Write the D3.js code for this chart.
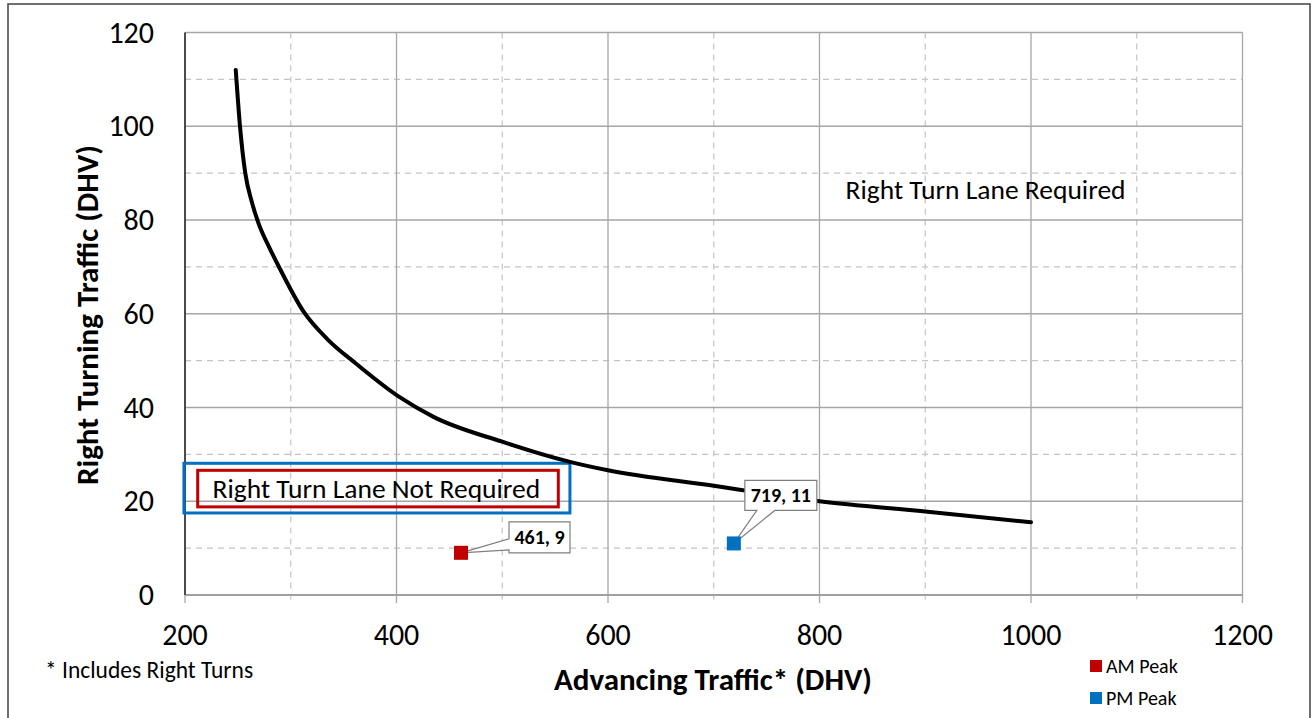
<!DOCTYPE html>
<html>
<head>
<meta charset="utf-8">
<script src="https://cdn.jsdelivr.net/npm/d3@7"></script>
<style>
  html, body { margin: 0; padding: 0; background: #fff; }
  svg { display: block; font-family: Carlito, Lato, "Open Sans", sans-serif; }
  .grid-major { stroke: #a6a6a6; stroke-width: 1.3; }
  .grid-minor { stroke: #c4c4c4; stroke-width: 1.2; stroke-dasharray: 6 5; }
  .tick-label { font-size: 30px; fill: #000; }
  .axis-title { font-size: 31px; font-weight: bold; fill: #000; }
  .callout { fill: #fff; stroke: #7f7f7f; stroke-width: 1.2; }
  .callout-text { font-size: 20px; font-weight: bold; fill: #000; }
</style>
</head>
<body>
<svg id="chart" width="1312" height="718"></svg>
<script>
// boundary curve (advancing vs right turning traffic)
const curveX = [248, 252, 257, 263, 270, 280, 290, 312, 335, 361, 403, 435, 500, 564, 600, 700, 800, 900, 1000];
const curveY = [112, 100, 90, 84, 79, 74, 69.5, 60.5, 54.5, 49.5, 42.2, 38, 32.7, 28.4, 26.6, 23.3, 20.0, 17.8, 15.5];

// observed peaks
const peakNames = ['AM Peak', 'PM Peak'];
const peakX = [461, 719];
const peakY = [9, 11];
const peakColors = ['#c00000', '#0070c0'];

const xTicks = [200, 400, 600, 800, 1000, 1200];
const yTicks = [0, 20, 40, 60, 80, 100, 120];
const xMinor = [300, 500, 700, 900, 1100];
const yMinor = [10, 30, 50, 70, 90, 110];

const svg = d3.select('#chart');

const plot = { left: 185, right: 1242.5, top: 32.5, bottom: 595 };
const x = d3.scaleLinear().domain([200, 1200]).range([plot.left, plot.right]);
const y = d3.scaleLinear().domain([0, 120]).range([plot.bottom, plot.top]);

// outer frame
svg.append('rect')
  .attr('x', 8).attr('y', 4).attr('width', 1302).attr('height', 720)
  .attr('fill', 'none').attr('stroke', '#404040').attr('stroke-width', 1.5);

const grid = svg.append('g');

// minor dashed
grid.selectAll('line.vmin').data(xMinor).join('line')
  .attr('class', 'grid-minor')
  .attr('x1', (d) => x(d)).attr('x2', (d) => x(d))
  .attr('y1', plot.top).attr('y2', plot.bottom + 8);
grid.selectAll('line.hmin').data(yMinor).join('line')
  .attr('class', 'grid-minor')
  .attr('x1', plot.left).attr('x2', plot.right)
  .attr('y1', (d) => y(d)).attr('y2', (d) => y(d));

// major solid
grid.selectAll('line.vmaj').data(xTicks).join('line')
  .attr('class', 'grid-major')
  .attr('x1', (d) => x(d)).attr('x2', (d) => x(d))
  .attr('y1', plot.top).attr('y2', plot.bottom + 8);
grid.selectAll('line.hmaj').data(yTicks).join('line')
  .attr('class', 'grid-major')
  .attr('x1', plot.left).attr('x2', plot.right)
  .attr('y1', (d) => y(d)).attr('y2', (d) => y(d));

// bottom + left axis lines
svg.append('line')
  .attr('x1', plot.left).attr('x2', plot.right)
  .attr('y1', plot.bottom).attr('y2', plot.bottom)
  .attr('stroke', '#a0a0a0').attr('stroke-width', 2);
svg.append('line')
  .attr('x1', plot.left).attr('x2', plot.left)
  .attr('y1', plot.top).attr('y2', plot.bottom)
  .attr('stroke', '#222').attr('stroke-width', 1.5);

// tick labels
svg.selectAll('text.ylab').data(yTicks).join('text')
  .attr('class', 'tick-label')
  .attr('x', 154).attr('y', (d) => y(d) + 10)
  .attr('text-anchor', 'end')
  .text((d) => d);
svg.selectAll('text.xlab').data(xTicks).join('text')
  .attr('class', 'tick-label')
  .attr('x', (d) => x(d)).attr('y', 645)
  .attr('text-anchor', 'middle')
  .text((d) => d);

// axis titles
svg.append('text').attr('class', 'axis-title')
  .attr('x', 713).attr('y', 690).attr('text-anchor', 'middle')
  .text('Advancing Traffic* (DHV)');
svg.append('text').attr('class', 'axis-title')
  .attr('transform', 'translate(98,315) rotate(-90)').attr('text-anchor', 'middle')
  .text('Right Turning Traffic (DHV)');

svg.append('text')
  .attr('x', 45).attr('y', 678).attr('font-size', 23.5)
  .text('* Includes Right Turns');

// region labels
svg.append('text')
  .attr('x', x(957)).attr('y', y(84.4)).attr('font-size', 27.5).attr('text-anchor', 'middle')
  .text('Right Turn Lane Required');

svg.append('rect')
  .attr('x', x(199)).attr('y', y(28.1))
  .attr('width', x(564) - x(199)).attr('height', y(17.5) - y(28.1))
  .attr('fill', 'none').attr('stroke', '#0070c0').attr('stroke-width', 3);
svg.append('rect')
  .attr('x', x(212)).attr('y', y(26.6))
  .attr('width', x(553) - x(212)).attr('height', y(18.8) - y(26.6))
  .attr('fill', 'none').attr('stroke', '#c00000').attr('stroke-width', 3);
svg.append('text')
  .attr('x', x(381)).attr('y', y(22.7) + 9).attr('font-size', 27.5).attr('text-anchor', 'middle')
  .text('Right Turn Lane Not Required');

// curve
const curveData = curveX.map((v, i) => [v, curveY[i]]);
svg.append('path')
  .datum(curveData)
  .attr('fill', 'none').attr('stroke', '#000').attr('stroke-width', 4)
  .attr('stroke-linecap', 'round').attr('stroke-linejoin', 'round')
  .attr('d', d3.line().x((d) => x(d[0])).y((d) => y(d[1])).curve(d3.curveMonotoneX));

// callouts: box offset from the point, wedge on a side
function callout(px, py, box, side, w0, w1) {
  const { x0, y0, x1, y1 } = box;
  let d;
  if (side === 'left') {
    d = `M${x0},${y0}H${x1}V${y1}H${x0}V${w1}L${px},${py}L${x0},${w0}Z`;
  } else {
    d = `M${x0},${y0}H${x1}V${y1}H${w1}L${px},${py}L${w0},${y1}H${x0}Z`;
  }
  return d;
}

const peaks = peakNames.map((n, i) => ({ name: n, x: peakX[i], y: peakY[i], color: peakColors[i] }));

const calloutG = svg.append('g');
peaks.forEach((p, i) => {
  const px = x(p.x);
  const py = y(p.y);
  let box, path;
  if (i === 0) {
    box = { x0: px + 48, y0: py - 31, x1: px + 109, y1: py };
    path = callout(px, py, box, 'left', py - 14, py - 3);
  } else {
    box = { x0: px + 11, y0: py - 63, x1: px + 83, y1: py - 33 };
    path = callout(px, py, box, 'bottom', px + 23, px + 41);
  }
  calloutG.append('path').attr('class', 'callout').attr('d', path);
  calloutG.append('text').attr('class', 'callout-text')
    .attr('x', (box.x0 + box.x1) / 2).attr('y', (box.y0 + box.y1) / 2 + 7)
    .attr('text-anchor', 'middle')
    .text(`${p.x}, ${p.y}`);
});

// markers
svg.selectAll('rect.peak').data(peaks).join('rect')
  .attr('x', (d) => x(d.x) - 7).attr('y', (d) => y(d.y) - 7)
  .attr('width', 14).attr('height', 14)
  .attr('fill', (d) => d.color);

// legend
const leg = svg.append('g').attr('transform', 'translate(1090,660)');
const li = leg.selectAll('g').data(peaks).join('g')
  .attr('transform', (d, i) => `translate(0,${i * 32})`);
li.append('rect').attr('width', 12).attr('height', 12).attr('fill', (d) => d.color);
li.append('text').attr('x', 16).attr('y', 13).attr('font-size', 20).text((d) => d.name);
</script>
</body>
</html>
